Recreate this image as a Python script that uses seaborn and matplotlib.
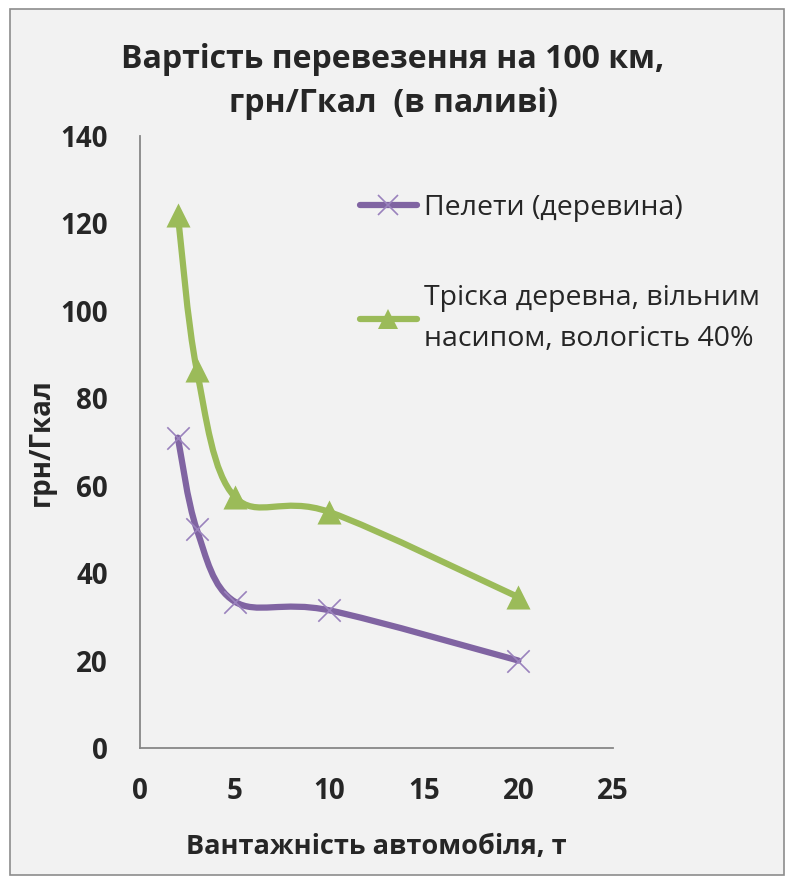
import numpy as np
import pandas as pd
import matplotlib
matplotlib.use("Agg")
import matplotlib.pyplot as plt
import seaborn as sns
from matplotlib.path import Path
from matplotlib.patches import PathPatch, Rectangle
from matplotlib.lines import Line2D

# values
capacity = [2, 3, 5, 10, 20]
pellets = [71, 50, 33.5, 31.5, 20]
chips = [122, 86.5, 57.5, 54, 34.5]
names = ["Пелети (деревина)", "Тріска деревна, вільним\nнасипом, вологість 40%"]
colors = ["#8064a2", "#9bbb59"]

sns.set_style("white")
plt.rcParams['font.family'] = ['Open Sans', 'DejaVu Sans']

BG = "#f2f2f2"


def smooth_path(xs, ys):
    # Excel-style smoothed line: cubic bezier between points (Catmull-Rom tangents)
    p = np.column_stack([xs, ys]).astype(float)
    pts = [p[0]]
    codes = [Path.MOVETO]
    n = len(p)
    for i in range(n - 1):
        p0 = p[i - 1] if i > 0 else p[i]
        p1, p2 = p[i], p[i + 1]
        p3 = p[i + 2] if i + 2 < n else p[i + 1]
        c1 = p1 + (p2 - p0) / 6
        c2 = p2 - (p3 - p1) / 6
        pts += [c1, c2, p2]
        codes += [Path.CURVE4] * 3
    return Path(pts, codes)


fig = plt.figure(figsize=(7.86, 8.81), dpi=100)
fig.patch.set_facecolor("white")
fig.patches.append(Rectangle((10 / 786, 6 / 881), 774 / 786, 866 / 881,
                             transform=fig.transFigure, facecolor=BG,
                             edgecolor="#8c8c8c", linewidth=1.2, zorder=-1))
ax = fig.add_axes([140 / 786, 1 - 748 / 881, 473 / 786, 612 / 881])
ax.set_facecolor(BG)

df = pd.DataFrame({"x": capacity * 2, "y": pellets + chips,
                   "s": [names[0]] * 5 + [names[1]] * 5})

for name, col, vals in zip(names, colors, [pellets, chips]):
    ax.add_patch(PathPatch(smooth_path(capacity, vals), facecolor="none",
                           edgecolor=col, linewidth=4.5, capstyle="round",
                           zorder=2))

sns.scatterplot(data=df[df.s == names[0]], x="x", y="y", marker="x",
                color="#9a82bd", s=260, linewidth=1.2, ax=ax, zorder=3,
                legend=False)
sns.scatterplot(data=df[df.s == names[1]], x="x", y="y", marker="^",
                color=colors[1], s=300, linewidth=0, ax=ax, zorder=3,
                legend=False)

ax.set_xlim(0, 25)
ax.set_ylim(0, 140)
ax.set_xticks(range(0, 26, 5))
ax.set_yticks(range(0, 141, 20))
for s in ["top", "right"]:
    ax.spines[s].set_visible(False)
for s in ["left", "bottom"]:
    ax.spines[s].set_color("#878787")
    ax.spines[s].set_linewidth(1.3)
ax.tick_params(axis="both", direction="out", length=9, width=1.3,
               color="#878787", labelsize=20)
ax.tick_params(axis="y", pad=14)
ax.tick_params(axis="x", pad=12)
for lab in ax.get_xticklabels() + ax.get_yticklabels():
    lab.set_fontweight("bold")

ax.set_xlabel("Вантажність автомобіля, т", fontsize=19.5, fontweight="bold",
              labelpad=20)
ax.set_ylabel("грн/Гкал", fontsize=20, fontweight="bold", labelpad=3)

fig.text(0.5, 1 - 60 / 881, "Вартість перевезення на 100 км,",
         ha="center", va="center", fontsize=23, fontweight="bold")
fig.text(0.5, 1 - 104 / 881, "грн/Гкал  (в паливі)",
         ha="center", va="center", fontsize=23, fontweight="bold")

handles = [
    Line2D([], [], color=colors[0], linewidth=4.5, marker="x",
           markersize=14, markeredgecolor="#9a82bd", markeredgewidth=1.2),
    Line2D([], [], color=colors[1], linewidth=4.5, marker="^",
           markersize=15, markeredgewidth=0),
]
leg = ax.legend(handles, names, loc="upper left",
                bbox_to_anchor=(334 / 786, 1 - 168 / 881),
                bbox_transform=fig.transFigure, frameon=False, fontsize=20.5,
                handlelength=2.0, handletextpad=0.25, labelspacing=2.2,
                numpoints=1)
for t in leg.get_texts():
    t.set_linespacing(1.6)

fig.savefig("out.png", dpi=100, facecolor=fig.get_facecolor())
